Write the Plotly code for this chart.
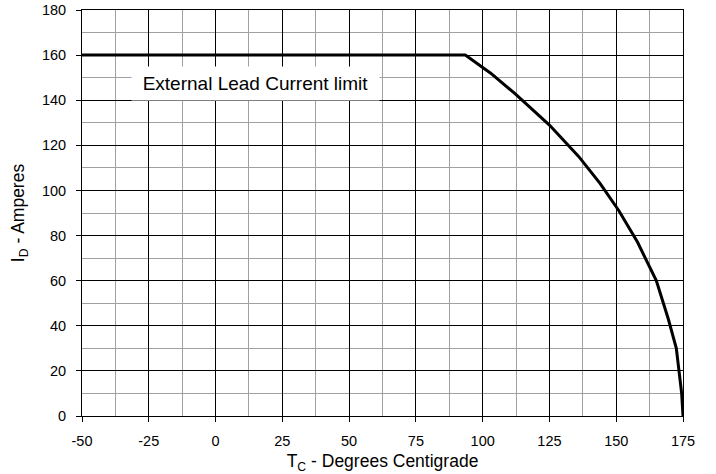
import plotly.graph_objects as go

# Case temperature (deg C) and drain current (A)
tc = [-50, 93.5, 103, 112, 125, 136, 144, 151, 158, 165, 169.5, 172.5, 174.5, 175]
id_amps = [160, 160, 152, 143, 129, 115, 103, 91, 77, 60, 43, 30, 10, 0]

x_ticks = [-50, -25, 0, 25, 50, 75, 100, 125, 150, 175]
y_ticks = [0, 20, 40, 60, 80, 100, 120, 140, 160, 180]

label_text = "External Lead Current limit"
label_x, label_y = 14.8, 147.6

FONT = "Liberation Sans, Arial, sans-serif"

fig = go.Figure()
fig.add_trace(go.Scatter(x=tc, y=id_amps, mode="lines",
                         line=dict(color="black", width=3), showlegend=False,
                         hoverinfo="skip"))

fig.add_annotation(x=label_x, y=label_y, xref="x", yref="y", text=label_text,
                   showarrow=False, bgcolor="white", width=245, height=31,
                   font=dict(family=FONT, size=19, color="black"))

axis_common = dict(
    showline=True, linecolor="black", linewidth=1, mirror=True,
    ticks="outside", ticklen=5, tickcolor="black",
    showgrid=True, gridcolor="black", gridwidth=1,
    zeroline=False, automargin=False,
    tickfont=dict(family=FONT, size=14.5, color="black"),
)

fig.update_xaxes(range=[-50, 175], tickvals=x_ticks,
                 ticktext=[str(v) for v in x_ticks],
                 ticklabelstandoff=7,
                 minor=dict(dtick=12.5, showgrid=True, gridcolor="#a0a0a0", gridwidth=1, ticks=""),
                 title=dict(text="T<sub>C</sub> - Degrees Centigrade",
                            font=dict(family=FONT, size=17.5, color="black"), standoff=6),
                 **axis_common)
fig.update_yaxes(range=[0, 180], tickvals=y_ticks,
                 ticktext=[str(v) for v in y_ticks],
                 ticklabelstandoff=7,
                 minor=dict(dtick=10, showgrid=True, gridcolor="#a0a0a0", gridwidth=1, ticks=""),
                 title=dict(text="I<sub>D</sub> - Amperes",
                            font=dict(family=FONT, size=17.5, color="black"), standoff=12),
                 **axis_common)

fig.update_layout(width=716, height=474, margin=dict(l=82, r=33, t=10, b=58),
                  plot_bgcolor="white", paper_bgcolor="white")

fig.write_html("out.html", config={"displayModeBar": False},
               post_script="document.body.style.margin='0';")
